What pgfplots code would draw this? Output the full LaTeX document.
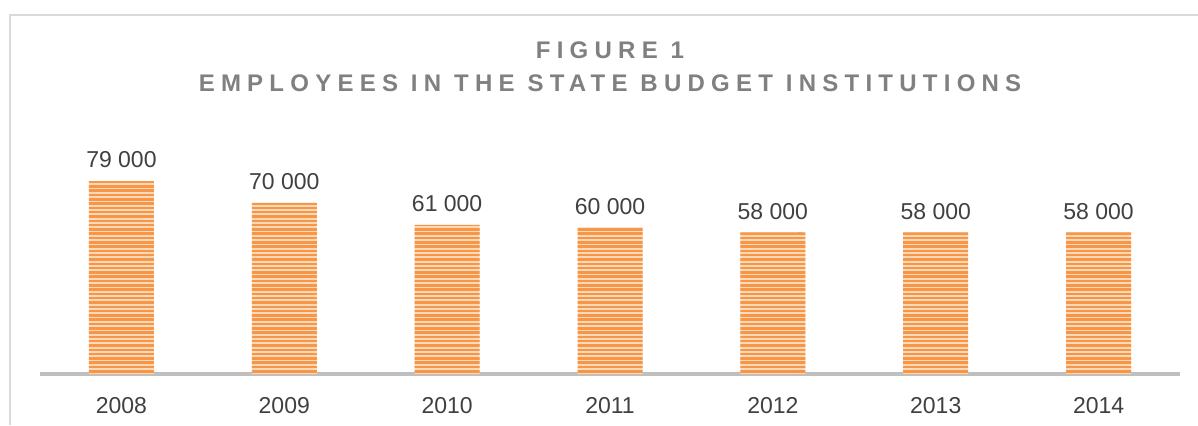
\documentclass[border=0pt]{standalone}
\usepackage{pgfplots}
\pgfplotsset{compat=1.18}
\usepackage{fontspec}
\setmainfont{Liberation Sans}
\usetikzlibrary{patterns}
\definecolor{barorange}{HTML}{F79646}
\definecolor{barlight}{HTML}{FCD9B8}
\definecolor{labelgray}{HTML}{404040}
\definecolor{titlegray}{HTML}{808080}
\definecolor{axisgray}{HTML}{BFBFBF}
\definecolor{framegray}{HTML}{D9D9D9}
% wide horizontal stripes, period 2.15pt
\pgfdeclarepatternformonly{stripes}{\pgfqpoint{-1pt}{-1pt}}{\pgfqpoint{201pt}{3pt}}{\pgfqpoint{200pt}{2.15pt}}{%
	\pgfsetlinewidth{1.25pt}
	\pgfpathmoveto{\pgfqpoint{-1pt}{1.075pt}}
	\pgfpathlineto{\pgfqpoint{201pt}{1.075pt}}
	\pgfusepath{stroke}}
\begin{document}
\begin{tikzpicture}
% frame and page size (1px = 0.5pt, axis origin at px (40,374))
\path[use as bounding box] (-20pt,-25.5pt) rectangle (579pt,187pt);
\draw[framegray, line width=1pt] (-15pt,-25.5pt) -- (-15pt,179.5pt) -- (579pt,179.5pt);
\begin{axis}[
	at={(0pt,0pt)}, anchor=south west,
	scale only axis,
	width=570pt, height=122.15pt,
	xmin=-0.5, xmax=6.5,
	ymin=0, ymax=100000,
	axis y line=none,
	axis x line*=bottom,
	x axis line style={axisgray, line width=2pt, -},
	xtick=data,
	xticklabels={2008,2009,2010,2011,2012,2013,2014},
	major tick length=0pt,
	xticklabel style={font=\fontsize{11.5}{13}\selectfont, text=labelgray, yshift=-8pt},
	ybar, bar width=32.5pt,
	nodes near coords,
	point meta=explicit symbolic,
	every node near coord/.append style={font=\fontsize{11.5}{13}\selectfont, text=labelgray, yshift=3pt},
	title={FIGURE 1\\EMPLOYEES IN THE STATE BUDGET INSTITUTIONS},
	title style={at={(0.5,1)}, anchor=south, yshift=9.5pt, align=center, text=titlegray,
		font=\fontsize{12}{16.5}\selectfont\bfseries\addfontfeature{LetterSpace=26}},
	clip=false]
\addplot[draw=none, fill=barlight,
	postaction={pattern=stripes, pattern color=barorange}]
	coordinates {(0,79000) [79 000] (1,70000) [70 000] (2,61000) [61 000] (3,60000) [60 000]
	(4,58000) [58 000] (5,58000) [58 000] (6,58000) [58 000]};
\end{axis}
\end{tikzpicture}
\end{document}
